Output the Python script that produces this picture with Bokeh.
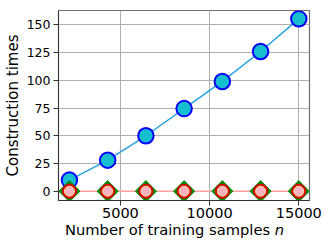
from bokeh.plotting import figure
from bokeh.models import Range1d, FixedTicker, Div
from bokeh.layouts import column
from bokeh.embed import file_html
from bokeh.resources import INLINE
import math

# data
n_samples = [2143, 4286, 6429, 8571, 10714, 12857, 15000]
times_main = [10, 28, 50, 74.5, 99, 126, 155.5]
times_a = [0, 0, 0, 0, 0, 0, 0]
times_b = [0, 0, 0, 0, 0, 0, 0]
times_c = [0, 0, 0, 0, 0, 0, 0]
x_ticks = [5000, 10000, 15000]
y_ticks = [0, 25, 50, 75, 100, 125, 150]
x_label_main = "Number of training samples"
x_label_var = "n"
y_label = "Construction times"

FONT = "DejaVu Sans"

p = figure(frame_width=251, frame_height=190, output_backend="svg", toolbar_location=None,
           x_range=Range1d(1530, 15600), y_range=Range1d(-8.4, 163),
           min_border_left=50, min_border_right=15, min_border_top=10, min_border_bottom=24)
p.background_fill_color = "white"
p.border_fill_color = "white"
p.outline_line_color = "#707070"
p.outline_line_width = 1.2

for ax in (p.xaxis[0], p.yaxis[0]):
    ax.major_tick_out = 5
    ax.major_tick_in = 0
    ax.minor_tick_out = 0
    ax.minor_tick_in = 0
    ax.axis_line_color = "#333333"
    ax.major_tick_line_color = "#333333"
    ax.major_label_text_font = FONT
    ax.major_label_text_color = "black"
    ax.axis_label_text_font = FONT
    ax.axis_label_text_font_style = "normal"
    ax.axis_label_text_color = "black"

p.xaxis.ticker = FixedTicker(ticks=x_ticks)
p.yaxis.ticker = FixedTicker(ticks=y_ticks)
p.xaxis.major_label_text_font_size = "14.5px"
p.yaxis.major_label_text_font_size = "12.5px"
p.yaxis.major_label_standoff = 3
p.xaxis.major_label_standoff = 2
p.yaxis.axis_label = y_label
p.yaxis.axis_label_text_font_size = "15px"
p.yaxis.axis_label_standoff = 2

p.xgrid.grid_line_color = "#b0b0b0"
p.ygrid.grid_line_color = "#b0b0b0"
p.xgrid.grid_line_width = 1
p.ygrid.grid_line_width = 1

# main series
p.line(n_samples, times_main, line_color="#27a4e0", line_width=1.5)
p.scatter(n_samples, times_main, size=15.5, marker="circle", fill_color="#17becf",
          line_color="#0000ff", line_width=2)

# near-zero series
p.line(n_samples, times_c, line_color="#ff9f9f", line_width=1.5)
p.scatter(n_samples, times_a, size=15, marker="square", angle=math.pi / 4,
          fill_color="#0a8a0a", line_color="#0a8a0a", line_width=1)
p.scatter(n_samples, times_b, size=14, marker="circle", fill_color="#e00000",
          line_color="#e00000", line_width=1)
p.scatter(n_samples, times_c, size=10, marker="circle", fill_color="#ffb3c0",
          line_color="#f0e0a0", line_width=1)

# x axis label with an italic n
xlab = Div(text=f"{x_label_main} <i>{x_label_var}</i>", width=316, height=16,
           margin=(-2, 0, 0, 0),
           styles={"font-family": FONT, "font-size": "14.7px", "color": "black",
                   "line-height": "16px", "padding-left": "65px", "white-space": "nowrap"})

layout = column(p, xlab, spacing=0)
open("out.html", "w").write(file_html(layout, INLINE))
